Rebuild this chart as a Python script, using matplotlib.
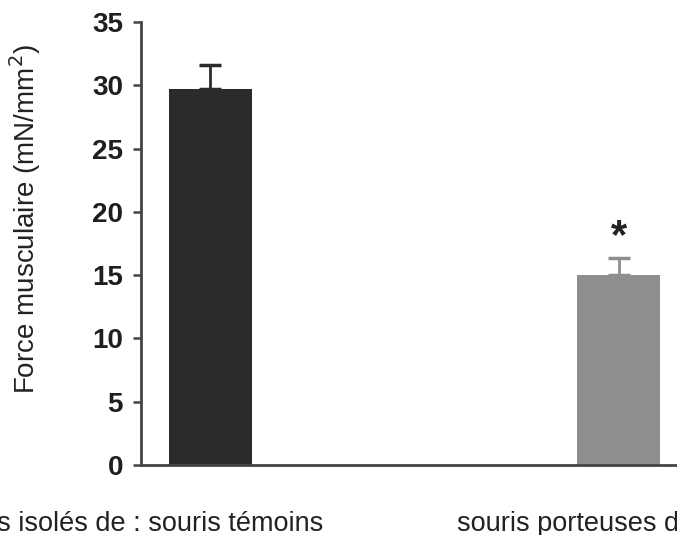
import matplotlib.pyplot as plt

plt.rcParams["font.family"] = ["Liberation Sans", "DejaVu Sans"]

groups = ["souris témoins", "souris porteuses de tumeur"]
force = [29.7, 15.0]
sem = [1.9, 1.35]
bar_colors = ["#2b2b2b", "#8e8e8e"]
yticks = [0, 5, 10, 15, 20, 25, 30, 35]

fig = plt.figure(figsize=(6.77, 5.35), dpi=100)
ax = fig.add_axes([141 / 677, 70 / 535, 1 - 141 / 677, 443 / 535])

x = [0, 1]
ax.bar(x, force, width=0.203, color=bar_colors, zorder=2)
for xi, f, e, c in zip(x, force, sem, bar_colors):
    ax.errorbar(xi, f, yerr=[[0], [e]], color=c, capsize=8, capthick=2.5,
                elinewidth=2, zorder=1)

# significativité
ax.text(x[1], force[1] + sem[1] + 1.67, "*", ha="center", va="center",
        fontsize=30, fontweight="bold", color="#222222")

ax.set_xlim(-0.1696, 1.1427)
ax.set_ylim(0, 35)
ax.set_yticks(yticks)
ax.set_xticks([])
ax.tick_params(axis="y", length=6, width=1.8, color="#444444", pad=7,
               labelsize=20, labelcolor="#1e1e1e")
for lab in ax.get_yticklabels():
    lab.set_fontweight("bold")
for s in ["top", "right"]:
    ax.spines[s].set_visible(False)
for s in ["left", "bottom"]:
    ax.spines[s].set_color("#444444")
    ax.spines[s].set_linewidth(2)

fig.text(25 / 677, 1 - 219 / 535, "Force musculaire (mN/mm$^2$)",
         rotation=90, ha="center", va="center", fontsize=20, color="#222222")

# libellés des groupes (coupés par le bord de l'image comme dans l'original)
fig.text(323 / 677, 1 - 531 / 535, "Muscles isolés de : " + groups[0],
         ha="right", va="baseline", fontsize=19.5, color="#222222")
fig.text(457 / 677, 1 - 531 / 535, groups[1], ha="left", va="baseline",
         fontsize=19.5, color="#222222")

fig.savefig("out.png", dpi=100)
